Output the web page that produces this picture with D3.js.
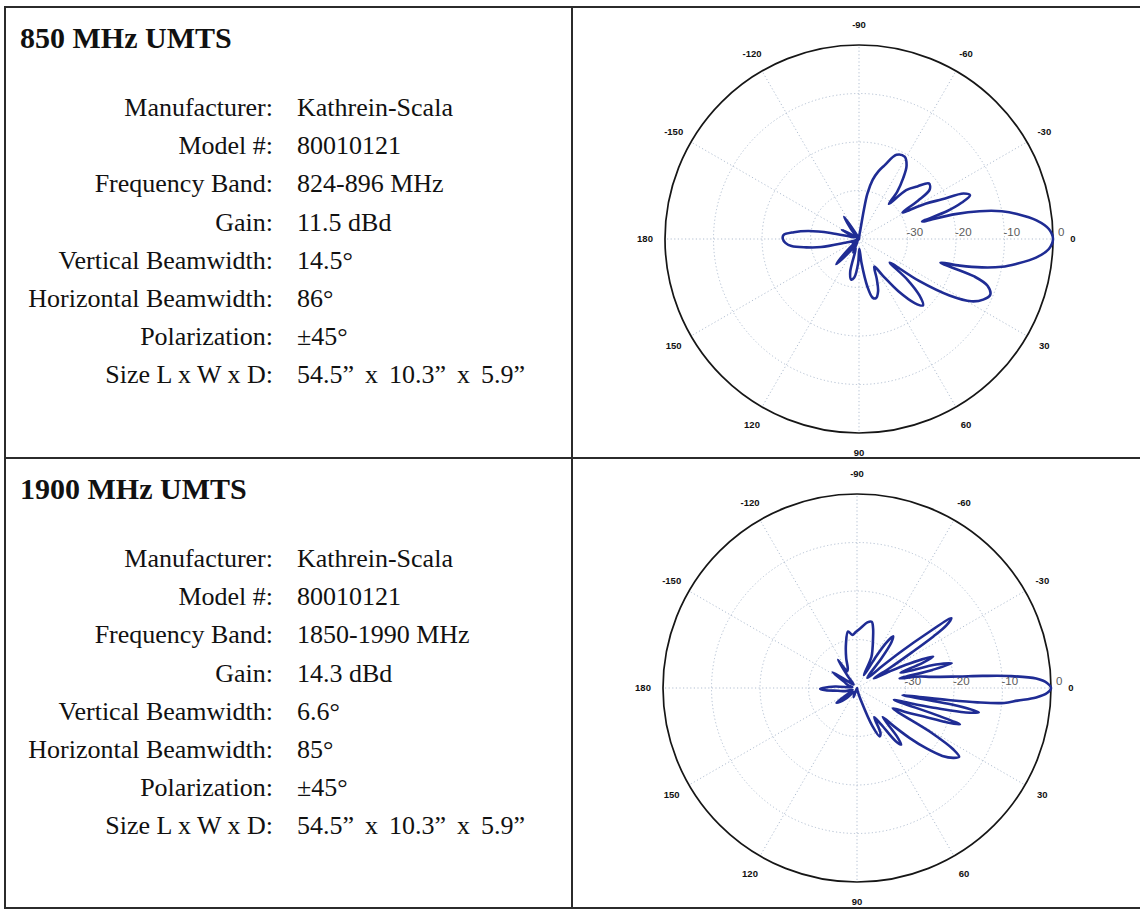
<!DOCTYPE html>
<html>
<head>
<meta charset="UTF-8">
<title>Antenna patterns</title>
<script src="https://d3js.org/d3.v7.min.js"></script>
<style>
    body { margin: 0; background: #fff; }
    .spec { font-family: "Liberation Serif", "Times New Roman", serif; font-size: 26px; fill: #111; }
    .title { font-family: "Liberation Serif", "Times New Roman", serif; font-size: 30px; font-weight: bold; fill: #111; }
    .ang-label { font-family: "Liberation Sans", Arial, sans-serif; font-size: 9.5px; font-weight: bold; fill: #111; }
    .r-label { font-family: "Liberation Sans", Arial, sans-serif; font-size: 11.5px; fill: #5c5c5c; }
    .grid { fill: none; stroke: #a9b8cc; stroke-width: 0.9; stroke-dasharray: 1.2, 2.4; }
</style>
</head>
<body>
<script>
// spec table text
var specLabels = ["Manufacturer:", "Model #:", "Frequency Band:", "Gain:", "Vertical Beamwidth:",
    "Horizontal Beamwidth:", "Polarization:", "Size L x W x D:"];
var specs850 = ["Kathrein-Scala", "80010121", "824-896 MHz", "11.5 dBd", "14.5°", "86°", "±45°",
    "54.5\u201D x 10.3\u201D x 5.9\u201D"];
var specs1900 = ["Kathrein-Scala", "80010121", "1850-1990 MHz", "14.3 dBd", "6.6°", "85°", "±45°",
    "54.5\u201D x 10.3\u201D x 5.9\u201D"];

// polar axes
var angleTicks = [0, 30, 60, 90, 120, 150, 180, -150, -120, -90, -60, -30];
var ringTicks = [-30, -20, -10, 0];

// 850 MHz pattern (degrees, dB)
var angles850 = [-180, -177, -174, -171, -168, -165, -160, -152, -148, -140, -130, -124, -119, -110, -100,
    -90, -84, -82, -80.5, -79.5, -77, -74, -71, -66, -61, -57, -54, -51, -49.5, -46, -42, -38.5, -35, -33,
    -31.5, -28, -25.5, -23.5, -21.5, -19.5, -17.5, -15.5, -14.5, -13, -11, -9, -6, -3, 0, 3, 6, 9, 11, 13,
    14.8, 16.2, 18, 20, 23, 26, 29, 32, 35, 37.5, 40, 43, 46, 49, 53, 57, 61, 66, 70, 74, 77, 80, 84, 88,
    92, 97, 101, 105, 109, 114, 119, 123, 128, 132, 136, 141, 148, 152, 160, 165, 168, 171, 174, 177];
var gain850 = [-24.3, -24.4, -26.5, -29.5, -34, -38, -39, -36, -39, -40, -38, -34.5, -39, -40, -40,
    -40, -39, -38.5, -34, -30.5, -27.5, -25.5, -24, -21, -20.6, -22, -24.5, -27.5, -30.5, -26, -23.8, -21.6, -22.2, -25.5,
    -29.5, -24.5, -21, -16.5, -15.4, -17.5, -21, -26.5, -19.5, -14.5, -10, -7, -3.2, -0.8, 0, -0.8, -3.3, -7.2, -10, -14,
    -18.5, -22.5, -15, -11.8, -10.6, -11.5, -13.5, -18, -25, -32, -27, -23, -21, -22.5, -26.5, -31, -33.5, -31, -28.5, -27.3, -27.6, -30, -35, -38,
    -35, -32, -31.5, -33, -38, -37, -39.5, -38, -36, -33, -37, -40, -38.5, -40, -39, -37, -32, -29, -26, -24.8];

// 1900 MHz pattern (degrees, dB)
var angles1900 = [-180, -176, -170, -162, -154, -147, -141, -134, -128, -124, -120, -115, -110, -104, -99,
    -95, -91, -86, -81, -77.5, -75, -72, -68, -65, -62, -59, -57, -55, -53, -50.5, -47, -44, -41, -39.5, -38,
    -36.5, -35, -34, -33, -31.5, -29.5, -27, -25, -22.5, -21, -19.5, -18, -16.5, -14.6, -13.5, -12.5, -10.5,
    -8.5, -6.5, -5.5, -4.5, -3, -1.5, 0, 1.5, 3, 4.5, 5.8, 6.8, 7.5, 8.2, 9, 10, 11.3, 12.7, 14.5, 16.5, 17.8,
    18.8, 19.5, 21, 23, 26, 29.5, 31, 32.5, 34, 36, 38.5, 41, 43.5, 46, 48.5, 50.5, 52, 54, 56.5, 59.5, 62.5,
    65, 68, 72, 80, 95, 110, 125, 136, 141, 144.5, 148, 156, 165, 172, 176, 178.5];
var gain1900 = [-33, -35.5, -39, -38, -37, -34, -38.5, -39, -37, -33, -36, -35.5, -33.5, -30.6, -28.2,
    -29, -28.4, -27.5, -26.3, -26, -27.2, -29.3, -31.5, -33, -37, -33, -28.8, -27, -28.2, -32, -36.5, -37, -33, -28, -22,
    -15.8, -17.5, -21, -26.5, -32, -36, -32.5, -28, -23, -25.5, -30.5, -28.5, -23, -19.8, -24, -31, -27,
    -24.5, -19, -14, -8.5, -3, -0.8, 0, -0.8, -3, -6.8, -9.5, -15, -21, -27, -30.5, -19, -14.4, -17, -24, -30, -32,
    -22, -17.5, -20.5, -25, -28.5, -31.5, -22, -16.5, -14.6, -15.5, -17.5, -21, -25, -29, -32, -27, -25.2, -26.5, -31, -33, -29.5,
    -29, -31.5, -37, -39.5, -40, -38, -39, -37, -35.5, -34.8, -38, -39, -37.5, -36, -33.5, -32.4];

var width = 1140;
var height = 909;
var plotRadius = 194;
var labelRadius = 214;

var svg = d3.select("body").append("svg")
    .attr("width", width)
    .attr("height", height);

// table frame
var frame = svg.append("g")
    .attr("stroke", "#2b2b2b")
    .attr("stroke-width", 2)
    .attr("fill", "none");
frame.append("rect").attr("x", 5).attr("y", 7).attr("width", 1140).attr("height", 901);
frame.append("line").attr("x1", 572).attr("x2", 572).attr("y1", 7).attr("y2", 908);
frame.append("line").attr("x1", 5).attr("x2", 1145).attr("y1", 458).attr("y2", 458);

function drawSpecs(top, title, values) {
    var g = svg.append("g");
    g.append("text").attr("class", "title").attr("x", 20).attr("y", top).text(title);
    g.selectAll(".lab").data(specLabels).enter().append("text")
        .attr("class", "spec")
        .attr("text-anchor", "end")
        .attr("x", 273)
        .attr("y", function (d, i) { return top + 68 + i * 38.2; })
        .text(function (d) { return d; });
    g.selectAll(".val").data(values).enter().append("text")
        .attr("class", "spec")
        .attr("x", 297)
        .attr("y", function (d, i) { return top + 68 + i * 38.2; })
        // the size line is set with wider spaces in the original
        .attr("word-spacing", function (d, i) { return i === values.length - 1 ? 4.5 : 0; })
        .text(function (d) { return d; });
}

drawSpecs(48, "850 MHz UMTS", specs850);
drawSpecs(499, "1900 MHz UMTS", specs1900);

var r = d3.scaleLinear().domain([-40, 0]).range([0, plotRadius]).clamp(true);
// screen angle: 0 to the right, positive clockwise
var toRad = function (deg) { return deg * Math.PI / 180; };

function drawPolar(cx, cy, angles, gains) {
    var g = svg.append("g").attr("transform", "translate(" + cx + "," + cy + ")");

    // spokes
    g.selectAll(".spoke").data(angleTicks).enter().append("line")
        .attr("class", "grid")
        .attr("x1", 0).attr("y1", 0)
        .attr("x2", function (d) { return plotRadius * Math.cos(toRad(d)); })
        .attr("y2", function (d) { return plotRadius * Math.sin(toRad(d)); });

    // rings
    g.selectAll(".ring").data(ringTicks.slice(0, -1)).enter().append("circle")
        .attr("class", "grid")
        .attr("r", function (d) { return r(d); });

    g.append("circle")
        .attr("r", r(0))
        .attr("fill", "none")
        .attr("stroke", "#161616")
        .attr("stroke-width", 1.7);

    // ring labels
    g.selectAll(".r-label").data(ringTicks).enter().append("text")
        .attr("class", "r-label")
        .attr("x", function (d) { return r(d) + (d === 0 ? 5 : -1); })
        .attr("y", -7)
        .attr("dy", "0.35em")
        .text(function (d) { return d; });

    // angle labels
    g.selectAll(".ang-label").data(angleTicks).enter().append("text")
        .attr("class", "ang-label")
        .attr("x", function (d) { return labelRadius * Math.cos(toRad(d)); })
        .attr("y", function (d) { return labelRadius * Math.sin(toRad(d)); })
        .attr("dy", "0.35em")
        .attr("text-anchor", "middle")
        .text(function (d) { return d; });

    // pattern
    var pts = angles.map(function (a, i) { return [a, gains[i]]; });
    var line = d3.lineRadial()
        .angle(function (d) { return toRad(d[0] + 90); })
        .radius(function (d) { return r(d[1]); })
        .curve(d3.curveCatmullRomClosed.alpha(0.5));

    g.append("path")
        .datum(pts)
        .attr("d", line)
        .attr("fill", "none")
        .attr("stroke", "#1f2c94")
        .attr("stroke-width", 2.6)
        .attr("stroke-linejoin", "round");
}

drawPolar(859, 239, angles850, gain850);
drawPolar(857, 688, angles1900, gain1900);
</script>
</body>
</html>
